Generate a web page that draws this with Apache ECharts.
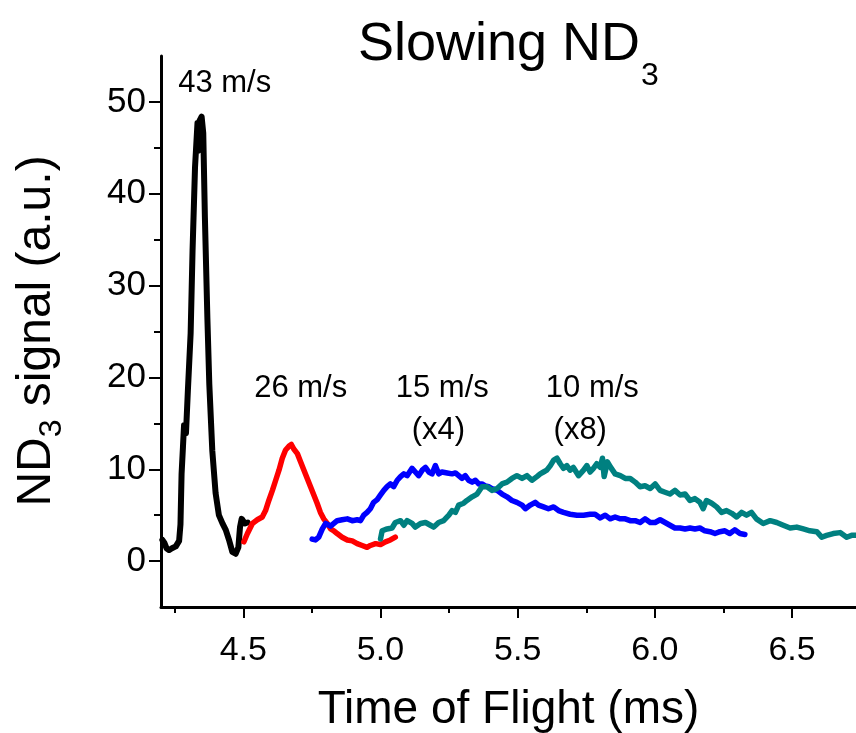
<!DOCTYPE html>
<html>
<head>
<meta charset="utf-8">
<title>Slowing ND3</title>
<script src="https://cdn.jsdelivr.net/npm/echarts@6/dist/echarts.min.js"></script>
<style>
  html, body { margin: 0; padding: 0; background: #ffffff; }
  #chart { width: 856px; height: 733px; }
</style>
</head>
<body>
<div id="chart"></div>
<script>
// Time-of-flight traces (time in ms, ND3 signal in arbitrary units)
const trace43 = [
  [4.205, 2.3], [4.212, 2.0], [4.220, 1.4], [4.229, 1.2], [4.240, 1.4], [4.254, 1.6],
  [4.266, 2.2], [4.271, 4.0], [4.275, 9.5], [4.280, 12.4], [4.284, 14.8], [4.291, 13.9],
  [4.298, 18.6], [4.308, 24.8], [4.315, 33.8], [4.324, 42.9], [4.333, 47.7], [4.336, 44.7],
  [4.341, 48.0], [4.348, 48.4], [4.354, 46.6], [4.360, 37.4], [4.369, 26.5], [4.376, 19.3],
  [4.387, 12.0], [4.399, 7.4], [4.411, 5.0], [4.424, 4.1], [4.436, 3.4], [4.448, 2.3],
  [4.460, 1.0], [4.472, 0.8], [4.482, 1.5], [4.488, 3.7], [4.494, 4.6], [4.506, 4.1], [4.516, 4.2]
];
const trace26 = [
  [4.502, 2.1], [4.515, 3.0], [4.533, 4.1], [4.551, 4.5], [4.569, 4.8], [4.581, 5.5],
  [4.593, 6.6], [4.606, 7.7], [4.618, 8.8], [4.630, 9.9], [4.642, 11.2], [4.654, 12.1],
  [4.666, 12.5], [4.675, 12.7], [4.684, 12.2], [4.697, 11.7], [4.709, 10.8], [4.721, 9.9],
  [4.733, 9.0], [4.745, 8.1], [4.757, 7.2], [4.769, 6.3], [4.781, 5.3], [4.793, 4.6],
  [4.806, 4.1], [4.818, 3.5], [4.830, 3.3], [4.842, 3.0], [4.860, 2.6], [4.879, 2.3],
  [4.897, 2.2], [4.915, 1.9], [4.933, 1.7], [4.951, 1.5], [4.963, 1.7], [4.982, 1.9],
  [5.000, 1.8], [5.018, 2.1], [5.036, 2.3], [5.054, 2.6]
];
const trace15 = [
  [4.751, 2.4], [4.763, 2.3], [4.775, 2.6], [4.788, 3.5], [4.800, 4.1], [4.818, 3.8],
  [4.830, 4.1], [4.842, 4.4], [4.860, 4.5], [4.879, 4.6], [4.897, 4.4], [4.915, 4.5],
  [4.927, 4.4], [4.939, 5.0], [4.951, 5.3], [4.963, 5.7], [4.975, 6.4], [4.988, 6.7],
  [5.000, 7.2], [5.012, 7.7], [5.024, 8.1], [5.036, 8.4], [5.048, 8.1], [5.061, 8.8],
  [5.073, 9.2], [5.085, 9.5], [5.097, 9.3], [5.115, 10.1], [5.127, 9.7], [5.139, 9.3],
  [5.152, 9.9], [5.164, 10.2], [5.176, 9.7], [5.188, 9.5], [5.200, 10.4], [5.212, 9.5],
  [5.224, 9.7], [5.243, 9.6], [5.261, 9.5], [5.273, 9.6], [5.285, 9.3], [5.297, 9.0],
  [5.309, 9.3], [5.321, 8.8], [5.334, 8.6], [5.346, 8.8], [5.358, 8.4], [5.370, 8.4],
  [5.382, 8.2], [5.394, 8.1], [5.406, 7.9], [5.425, 7.7], [5.443, 7.3], [5.461, 7.0],
  [5.479, 6.6], [5.497, 6.4], [5.516, 6.1], [5.528, 5.7], [5.546, 6.1], [5.564, 6.4],
  [5.576, 6.1], [5.594, 5.9], [5.612, 5.7], [5.631, 5.9], [5.649, 5.5], [5.667, 5.3],
  [5.691, 5.1], [5.716, 5.0], [5.740, 5.0], [5.764, 5.1], [5.782, 5.1], [5.801, 4.7],
  [5.819, 5.0], [5.837, 4.6], [5.855, 4.8], [5.874, 4.6], [5.892, 4.6], [5.910, 4.4],
  [5.928, 4.4], [5.946, 4.2], [5.964, 4.6], [5.983, 4.2], [6.001, 4.2], [6.019, 4.5],
  [6.037, 4.2], [6.055, 3.9], [6.073, 3.6], [6.092, 3.6], [6.110, 3.5], [6.128, 3.6],
  [6.146, 3.5], [6.164, 3.6], [6.182, 3.3], [6.201, 3.2], [6.219, 3.0], [6.237, 3.2],
  [6.255, 3.3], [6.273, 3.0], [6.291, 3.4], [6.310, 3.0], [6.328, 2.9]
];
const trace10 = [
  [5.000, 2.4], [5.006, 3.3], [5.024, 3.5], [5.042, 3.6], [5.054, 4.2], [5.073, 4.4],
  [5.085, 3.9], [5.097, 4.4], [5.115, 4.1], [5.127, 3.7], [5.146, 4.1], [5.164, 4.2],
  [5.182, 3.9], [5.194, 3.7], [5.212, 4.2], [5.230, 4.4], [5.249, 5.0], [5.261, 5.5],
  [5.273, 5.3], [5.285, 6.1], [5.303, 6.3], [5.315, 6.6], [5.334, 7.0], [5.352, 7.3],
  [5.370, 8.1], [5.388, 8.1], [5.406, 7.7], [5.425, 7.9], [5.443, 8.4], [5.461, 8.6],
  [5.479, 9.0], [5.497, 9.3], [5.516, 9.0], [5.534, 9.3], [5.552, 8.8], [5.570, 9.2],
  [5.582, 9.5], [5.594, 9.7], [5.606, 9.9], [5.619, 10.4], [5.631, 11.0], [5.643, 11.2],
  [5.655, 10.6], [5.667, 10.1], [5.679, 10.4], [5.691, 9.9], [5.703, 10.2], [5.722, 9.3],
  [5.740, 9.9], [5.752, 10.4], [5.764, 9.7], [5.776, 10.1], [5.788, 10.6], [5.801, 10.2],
  [5.809, 11.2], [5.815, 9.2], [5.827, 10.8], [5.839, 10.2], [5.855, 9.5], [5.874, 9.3],
  [5.892, 9.0], [5.910, 9.0], [5.928, 8.6], [5.946, 8.1], [5.964, 8.2], [5.983, 7.9],
  [6.001, 8.4], [6.019, 7.7], [6.037, 7.5], [6.055, 7.3], [6.073, 7.7], [6.092, 7.2],
  [6.110, 7.3], [6.128, 6.6], [6.146, 6.8], [6.164, 6.4], [6.176, 5.7], [6.188, 6.6],
  [6.207, 6.3], [6.225, 5.9], [6.243, 5.3], [6.261, 5.5], [6.280, 5.2], [6.298, 4.8],
  [6.316, 5.3], [6.334, 5.0], [6.352, 5.3], [6.370, 4.6], [6.395, 4.1], [6.420, 4.4],
  [6.444, 4.2], [6.468, 3.9], [6.493, 3.6], [6.517, 3.7], [6.541, 3.5], [6.565, 3.3],
  [6.590, 3.2], [6.608, 2.6], [6.626, 2.8], [6.650, 3.0], [6.675, 3.1], [6.699, 2.6],
  [6.717, 2.8], [6.740, 2.8]
];

// Axis ticks
const xMajorTicks = [4.5, 5.0, 5.5, 6.0, 6.5];
const xMinorTicks = [4.25, 4.75, 5.25, 5.75, 6.25];
const yMajorTicks = [0, 10, 20, 30, 40, 50];
const yMinorTicks = [5, 15, 25, 35, 45];

// Speed annotations, anchored in data space
const noteText = ['43 m/s', '26 m/s', '15 m/s', '(x4)', '10 m/s', '(x8)'];
const noteTime = [4.432, 4.709, 5.225, 5.211, 5.772, 5.728];
const noteSignal = [52.0, 18.8, 18.8, 14.2, 18.8, 14.2];

const FONT = "'Liberation Sans', Arial, sans-serif";
const chart = echarts.init(document.getElementById('chart'), null, { renderer: 'canvas' });

function traceSeries(name, data, color, width) {
  return {
    name: name,
    type: 'line',
    data: data,
    xAxisIndex: 0,
    yAxisIndex: 0,
    showSymbol: false,
    symbol: 'none',
    smooth: false,
    clip: true,
    lineStyle: { color: color, width: width, join: 'round', cap: 'round' },
    emphasis: { disabled: true },
    animation: false
  };
}

const xRange = { min: 4.2, max: 6.733 };
const yRange = { min: -5, max: 55 };

chart.setOption({
  backgroundColor: '#ffffff',
  animation: false,
  grid: { left: 161, right: 0, top: 56, bottom: 126, containLabel: false, outerBoundsMode: 'none' },
  xAxis: [
    {
      type: 'value', min: xRange.min, max: xRange.max, position: 'bottom',
      axisLine: { show: true, onZero: false, lineStyle: { color: '#000', width: 3 } },
      axisTick: { show: true, customValues: xMajorTicks, length: 11, inside: false, lineStyle: { color: '#000', width: 2 } },
      axisLabel: { show: true, customValues: xMajorTicks, margin: 27, fontSize: 34, color: '#000', fontFamily: FONT,
        formatter: function (v) { return v.toFixed(1); } },
      splitLine: { show: false },
      name: 'Time of Flight (ms)', nameLocation: 'middle', nameGap: 80,
      nameTextStyle: { fontSize: 46, color: '#000', fontFamily: FONT }
    },
    {
      type: 'value', min: xRange.min, max: xRange.max, position: 'bottom',
      axisLine: { show: false, onZero: false },
      axisTick: { show: true, customValues: xMinorTicks, length: 6, lineStyle: { color: '#000', width: 2 } },
      axisLabel: { show: false },
      splitLine: { show: false }
    }
  ],
  yAxis: [
    {
      type: 'value', min: yRange.min, max: yRange.max, position: 'left',
      axisLine: { show: true, onZero: false, lineStyle: { color: '#000', width: 3 } },
      axisTick: { show: true, customValues: yMajorTicks, length: 12, lineStyle: { color: '#000', width: 2 } },
      axisLabel: { show: true, customValues: yMajorTicks, margin: 15, fontSize: 35, color: '#000', fontFamily: FONT },
      splitLine: { show: false }
    },
    {
      type: 'value', min: yRange.min, max: yRange.max, position: 'left',
      axisLine: { show: false, onZero: false },
      axisTick: { show: true, customValues: yMinorTicks, length: 7, lineStyle: { color: '#000', width: 2 } },
      axisLabel: { show: false },
      splitLine: { show: false }
    }
  ],
  graphic: [
    {
      type: 'text', left: 358, top: 18, silent: true,
      style: { text: 'Slowing ND', fontSize: 54, fontFamily: FONT, fill: '#000' }
    },
    {
      type: 'text', left: 641, top: 60, silent: true,
      style: { text: '3', fontSize: 32, fontFamily: FONT, fill: '#000' }
    },
    {
      type: 'text', x: 37, y: 331, rotation: Math.PI / 2, silent: true,
      style: {
        text: '{a|ND}{b|3}{a| signal (a.u.)}',
        align: 'center', verticalAlign: 'middle',
        fill: '#000',
        rich: {
          a: { fontSize: 48, lineHeight: 54, fontFamily: FONT, fill: '#000' },
          b: { fontSize: 32, lineHeight: 32, padding: [30, 0, 0, 0], fontFamily: FONT, fill: '#000' }
        }
      }
    }
  ],
  series: [
    traceSeries('43 m/s', trace43, '#000000', 6),
    traceSeries('26 m/s', trace26, '#ff0000', 5.5),
    traceSeries('15 m/s (x4)', trace15, '#0000ff', 5.5),
    traceSeries('10 m/s (x8)', trace10, '#008080', 5.5),
    {
      name: 'notes',
      type: 'scatter',
      symbolSize: 0,
      silent: true,
      itemStyle: { opacity: 1 },
      data: noteText.map(function (t, i) { return { name: t, value: [noteTime[i], noteSignal[i]] }; }),
      label: {
        show: true, position: [0, 0], align: 'center', verticalAlign: 'middle', formatter: '{b}',
        fontSize: 31, color: '#000000', opacity: 1, fontFamily: FONT, textBorderWidth: 0
      },
      emphasis: { disabled: true }
    }
  ]
});
</script>
</body>
</html>
